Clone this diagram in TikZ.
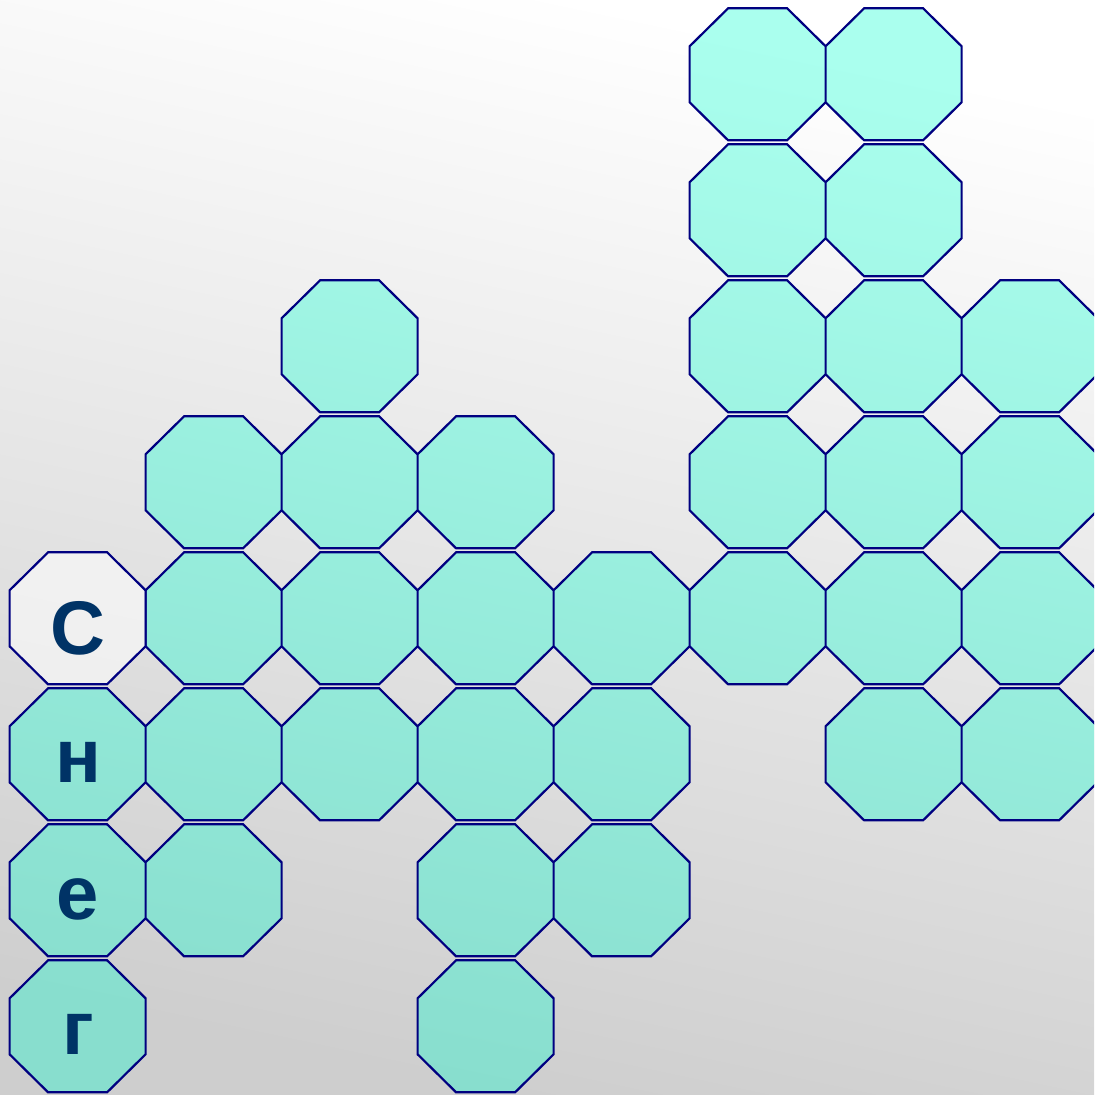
\documentclass[tikz,border=0pt]{standalone}
\usepackage{fontspec}
\setmainfont{Liberation Sans}
\usepackage{tikz}
\usetikzlibrary{positioning}

\definecolor{cellline}{RGB}{0,0,128}
\definecolor{celltop}{RGB}{170,255,238}
\definecolor{cellbot}{RGB}{136,222,206}
\definecolor{lettercol}{RGB}{0,51,102}
\definecolor{bgbot}{RGB}{206,206,206}

% one octagon of the grid, cell (#1,#2) = (column,row)
\newcommand{\octcell}[2]{({77.6+136*#1-29.5},{74.3+136*#2-66}) -- ++(59,0) -- ++(38.5,38) -- ++(0,56) -- ++(-38.5,38) -- ++(-59,0) -- ++(-38.5,-38) -- ++(0,-56) -- cycle}
\newcommand{\celllist}{5/0,6/0,5/1,6/1,2/2,5/2,6/2,7/2,1/3,2/3,3/3,5/3,6/3,7/3,1/4,2/4,3/4,4/4,5/4,6/4,7/4,0/5,1/5,2/5,3/5,4/5,6/5,7/5,0/6,1/6,3/6,4/6,0/7,3/7}

\begin{document}
\begin{tikzpicture}[x=0.5pt,y=-0.5pt,
  cell/.style={draw=cellline,line width=1.1pt},
  letter/.style={font=\fontsize{38}{40}\selectfont\bfseries,text=lettercol,anchor=base,inner sep=0pt}]
% ================= Background =================
\useasboundingbox (0,0) rectangle (1094,1095);
\clip (0,0) rectangle (1094,1095);
\shade[top color=white,bottom color=bgbot,shading angle=-12] (0,0) rectangle (1094,1095);

% ================= Cells =================
\begin{scope}
\clip \foreach \c/\r in \celllist {\octcell{\c}{\r}};
\shade[top color=celltop,bottom color=cellbot,shading angle=-12] (0,0) rectangle (1094,1095);
\end{scope}
\draw[cell] \foreach \c/\r in \celllist {\octcell{\c}{\r}};
\draw[cell,fill=white,fill opacity=0.55] \octcell{0}{4};

% ================= Letters =================
\node[letter] (s) at (78,654) {С};
\node[letter] (n) at (78,782) {н};
\node[letter] (e) at (78,919) {е};
\node[letter] (g) at (78,1054) {г};
\end{tikzpicture}
\end{document}
